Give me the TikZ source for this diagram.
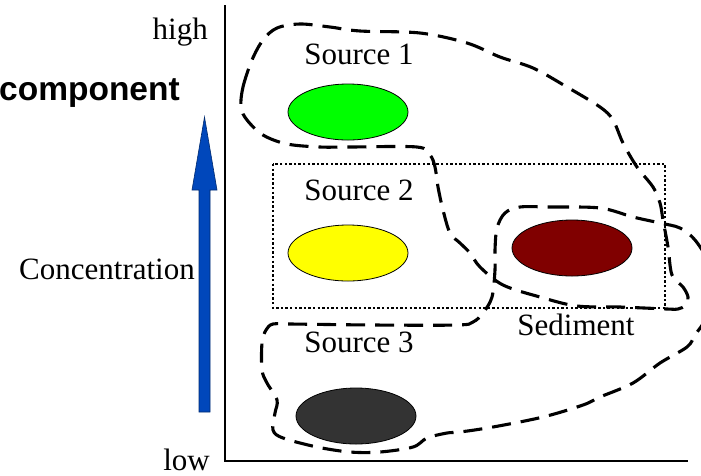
\documentclass[tikz,border=0pt]{standalone}
\usepackage{fontspec}
\setmainfont{Liberation Serif}
\newfontfamily\labelsans{Liberation Sans}
\usetikzlibrary{shapes.geometric}
\definecolor{arrowblue}{RGB}{0,71,187}
\definecolor{srcgreen}{RGB}{0,255,0}
\definecolor{srcyellow}{RGB}{255,255,0}
\definecolor{sedred}{RGB}{128,0,0}
\definecolor{srcgray}{RGB}{51,51,51}
\tikzset{
  blob/.style={ellipse, draw=black, line width=0.8pt, minimum width=120pt, minimum height=56pt, inner sep=0pt},
  lbl/.style={font=\fontsize{31}{31}\selectfont, inner sep=0pt},
  region/.style={draw=black, line width=3.1pt, dash pattern=on 19pt off 10pt, line cap=butt},
  box/.style={draw=black, line width=2.6pt, dash pattern=on 2.4pt off 2.2pt},
  axis/.style={draw=black, line width=1.3pt}
}
\begin{document}
\begin{tikzpicture}[x=1pt,y=-1pt]
\useasboundingbox (0,0) rectangle (701,475);
\clip (0,0) rectangle (701,475);

% axes
\coordinate (ytop) at (225,5);
\coordinate (origin) at (225,461);
\coordinate (xend) at (688,461);
\draw[axis] (ytop) -- (origin) -- (xend);

% axis labels
\node[lbl, anchor=base east] (high) at (208,39) {high};
\node[lbl, anchor=base east] (low) at (210,470) {low};
\node[lbl, anchor=base east] (conc) at (195,279) {Concentration};
\node[font=\labelsans\bfseries\fontsize{33.5}{33.5}\selectfont, inner sep=0pt, anchor=base west] (comp) at (-1,100) {component};

% upward arrow
\filldraw[fill=arrowblue, draw=arrowblue!60!black, line width=0.6pt]
  (199,412) -- (199,190) -- (192,190) -- (204.5,117) -- (217,190) -- (210,190) -- (210,412) -- cycle;

% sources and sediment
\node[blob, fill=srcgreen] (s1) at (348,112) {};
\node[blob, fill=srcyellow] (s2) at (348,253) {};
\node[blob, fill=sedred] (sed) at (572,248) {};
\node[blob, fill=srcgray] (s3) at (356,416) {};

\node[lbl, anchor=base] (t1) at (359,64) {Source 1};
\node[lbl, anchor=base] (t2) at (359,200) {Source 2};
\node[lbl, anchor=base] (t3) at (359,352) {Source 3};
\node[lbl, anchor=base] (tsed) at (576,335) {Sediment};

% dotted frame
\draw[box] (273,164) rectangle (665,308);

% region around Source 1 and the sediment
\draw[region] plot[smooth cycle, tension=0.55] coordinates {
  (241,107) (243,87) (252,60) (263,40) (277,28) (300,24) (330,27) (360,31)
  (420,33) (467,43) (500,57) (533,68) (567,87) (600,107) (613,120) (623,143)
  (637,167) (653,187) (660,203) (663,220) (668,247) (672,275) (683,287)
  (688,297) (686,305) (678,309) (667,309) (620,307) (577,306) (540,297)
  (503,285) (480,267) (470,253) (460,243) (450,233) (443,210) (438,187)
  (435,167) (430,155) (417,147) (350,147) (320,147) (287,144) (263,135) (247,120)};

% region around Source 3 and the sediment
\draw[region] plot[smooth cycle, tension=0.55] coordinates {
  (520,207) (550,207) (600,208) (633,217) (660,223) (680,228) (695,240)
  (708,262) (712,290) (706,318) (695,335) (687,347) (660,363) (633,383)
  (600,397) (583,405) (543,417) (493,427) (460,432) (447,433) (427,438)
  (413,447) (380,452) (350,452) (317,447) (283,438) (273,430) (275,413)
  (277,400) (267,383) (262,370) (262,343) (266,330) (273,324) (290,324)
  (373,325) (457,325) (473,322) (483,313) (492,297) (495,270) (495,250)
  (497,228) (505,213)};
\end{tikzpicture}
\end{document}
